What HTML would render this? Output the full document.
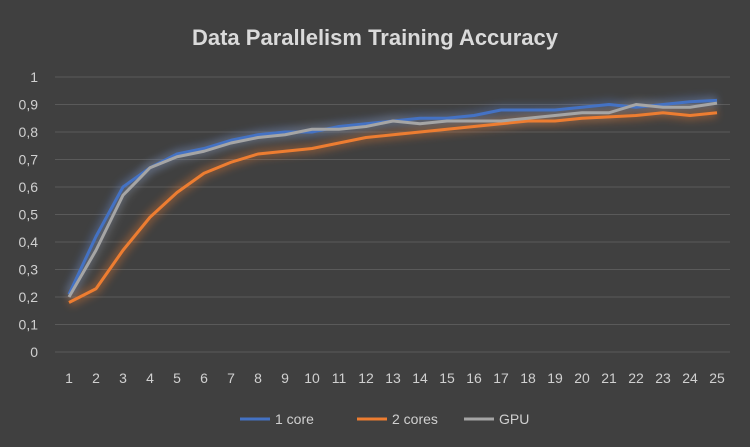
<!DOCTYPE html>
<html><head><meta charset="utf-8"><style>
body{margin:0;background:#404040;}
svg{display:block;font-family:"Liberation Sans",sans-serif;}
</style></head><body>
<svg id="chart" width="750" height="447">
<defs>
<filter id="glow" x="-20%" y="-20%" width="140%" height="140%"><feGaussianBlur stdDeviation="4"/></filter>
</defs>
<rect width="750" height="447" fill="#404040"/>
<text x="375" y="45" text-anchor="middle" font-size="22" font-weight="bold" fill="#dadada">Data Parallelism Training Accuracy</text>
<g id="grid"></g><g id="axes"></g><g id="series"></g><g id="legend"></g>
</svg>
<script>
const categories=[1,2,3,4,5,6,7,8,9,10,11,12,13,14,15,16,17,18,19,20,21,22,23,24,25];
const oneCore=[0.21,0.42,0.60,0.67,0.72,0.74,0.77,0.79,0.80,0.80,0.82,0.83,0.84,0.85,0.85,0.86,0.88,0.88,0.88,0.89,0.90,0.89,0.90,0.91,0.915];
const twoCores=[0.18,0.23,0.37,0.49,0.58,0.65,0.69,0.72,0.73,0.74,0.76,0.78,0.79,0.80,0.81,0.82,0.83,0.84,0.84,0.85,0.855,0.86,0.87,0.86,0.87];
const gpu=[0.20,0.37,0.57,0.67,0.71,0.73,0.76,0.78,0.79,0.81,0.81,0.82,0.84,0.83,0.84,0.84,0.84,0.85,0.86,0.87,0.87,0.90,0.89,0.89,0.905];
const yTicks=[0,0.1,0.2,0.3,0.4,0.5,0.6,0.7,0.8,0.9,1];
const seriesNames=["1 core","2 cores","GPU"];
const NS="http://www.w3.org/2000/svg";
const x=i=>69+(i-1)*27;
const y=v=>352-v*275;
function mk(tag,attrs,parent){const e=document.createElementNS(NS,tag);for(const k in attrs)e.setAttribute(k,attrs[k]);parent.appendChild(e);return e;}
const grid=document.getElementById('grid'),axes=document.getElementById('axes'),ser=document.getElementById('series'),leg=document.getElementById('legend');
yTicks.forEach(t=>{
  if(t>0){const l=mk('line',{x1:55,x2:730,y1:y(t),y2:y(t),stroke:'#5a5a5a','stroke-width':1},grid);
  
  }
  const tx=mk('text',{x:38,y:y(t)+5,'text-anchor':'end','font-size':14,fill:'#d0d0d0'},axes);
  tx.textContent=String(t).replace('.',',');
  
  
});
const base=mk('line',{x1:55,x2:730,y1:y(0),y2:y(0),stroke:'#5a5a5a'},axes);


categories.forEach(c=>{
  const tx=mk('text',{x:x(c),y:383,'text-anchor':'middle','font-size':14,fill:'#d0d0d0'},axes);
  tx.textContent=c;
  
  
});
const colors=['#4472c4','#ed7d31','#a5a5a5'];
const glows=['#5b80c8','#ed7d31','#888888'];
[oneCore,twoCores,gpu].forEach((d,si)=>{
  const pts=d.map((v,i)=>x(categories[i])+','+y(v)).join(' ');
  const g=mk('polyline',{points:pts,fill:'none',stroke:glows[si],'stroke-width':10,opacity:0.35,filter:'url(#glow)'},ser);
  
  
});
[oneCore,twoCores,gpu].forEach((d,si)=>{
  const pts=d.map((v,i)=>x(categories[i])+','+y(v)).join(' ');
  const p=mk('polyline',{points:pts,fill:'none',stroke:colors[si],'stroke-width':3,'stroke-linejoin':'round'},ser);
  
  
});
const lx=[240,357,464];
seriesNames.forEach((n,i)=>{
  const l=mk('line',{x1:lx[i],x2:lx[i]+30,y1:419,y2:419,stroke:colors[i],'stroke-width':3},leg);
  
  
  const t=mk('text',{x:lx[i]+35,y:424,'font-size':14,fill:'#d0d0d0'},leg);
  t.textContent=n;
  
  
});
</script>
</body></html>
